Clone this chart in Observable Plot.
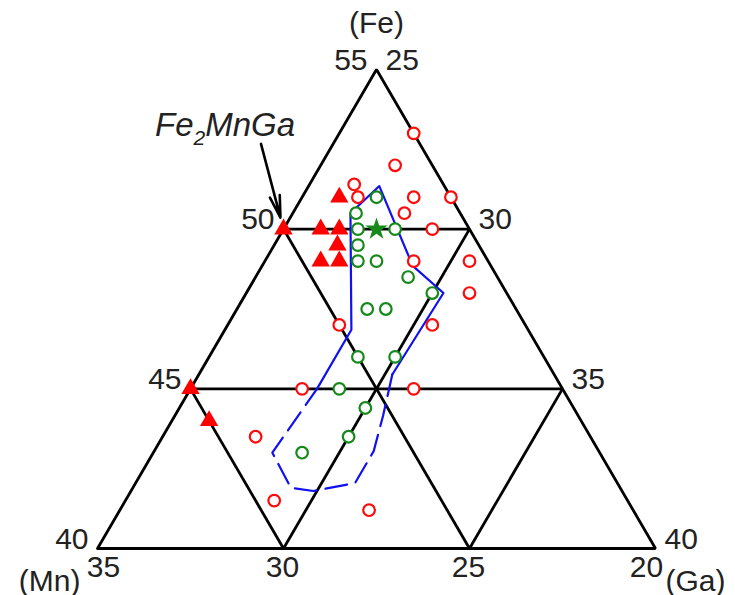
<!DOCTYPE html>
<html><head><meta charset="utf-8">
<script src="https://cdn.jsdelivr.net/npm/d3@7"></script>
<script src="https://cdn.jsdelivr.net/npm/@observablehq/plot@0.6"></script>
<style>body{margin:0;background:#fff;} #chart{width:735px;height:595px;}</style>
</head><body><div id="chart"></div>
<script>
// Ternary sub-triangle (at.%): Fe 40–55, Mn 20–35, Ga 25–40. Each point is [Fe, Mn, Ga].
const feTicks = [40, 45, 50, 55];
const mnTicks = [35, 30, 25, 20];
const gaTicks = [25, 30, 35, 40];

const redCircles = [
  [53, 20, 27], [52, 21, 27], [51.4, 22.4, 26.2], [51, 22.5, 26.5], [51, 21, 28],
  [51, 20, 29], [50.5, 21.5, 28], [50, 21, 29], [49, 22, 29], [49, 20.5, 30.5],
  [48, 21, 31], [47, 22.5, 30.5], [47, 25, 28], [45, 27, 28], [45, 24, 31],
  [43.5, 29, 27.5], [41.5, 29.5, 29], [41.2, 27.1, 31.7]
];
const greenCircles = [
  [51, 22, 27], [50.5, 22.8, 26.7], [50, 23, 27], [50, 22, 28], [49.5, 23.25, 27.25],
  [49, 23.5, 27.5], [49, 23, 28], [48.5, 22.4, 29.1], [48, 22, 30], [47.5, 24, 28.5],
  [47.5, 23.5, 29], [46, 25, 29], [46, 24, 30], [45, 26, 29], [44.4, 25.6, 30],
  [43.5, 26.5, 30], [43, 28, 29]
];
const redTriangles = [
  [50, 25, 25], [50, 24, 26], [50, 23.5, 26.5], [51, 23, 26], [49.5, 23.8, 26.7],
  [49, 24.5, 26.5], [49, 24, 27], [45, 30, 25], [44, 30, 26]
];
const greenStar = [[50, 22.5, 27.5]];
const blueSolid = [
  [45.0, 26.6, 28.4], [46.85, 24.75, 28.4], [50.5, 22.95, 26.55], [51.35, 21.75, 26.9],
  [48.85, 22.1, 29.05], [48.0, 21.7, 30.3], [45.45, 24.35, 30.2]
];
const blueDashed = [
  [45.45, 24.35, 30.2], [44.15, 25.25, 30.6], [43.05, 26.05, 30.9], [42.05, 27.05, 30.9],
  [41.8, 28.3, 29.9], [41.9, 28.85, 29.25], [43.0, 28.8, 28.2], [45.0, 26.6, 28.4]
];
const compoundLabel = "Fe2MnGa";
const compound = [50, 25, 25];
const compoundLabelAnchor = [52.67, 24.27, 23.06];

// ternary -> cartesian (unit triangle): x from Ga & Fe, y from Fe
const px = ([fe, mn, ga]) => (ga - 25) / 15 + (fe - 40) / 30;
const py = ([fe, mn, ga]) => (fe - 40) / 15;

const outline = [[40, 35, 25], [40, 20, 40], [55, 20, 25], [40, 35, 25]];
const inner = a => a.slice(1, -1);
const grid = [
  ...inner(feTicks).map(f => [[f, 75 - f, 25], [f, 20, 80 - f]]),
  ...inner(gaTicks).map(g => [[40, 60 - g, g], [80 - g, 20, g]]),
  ...inner(mnTicks).map(m => [[40, m, 60 - m], [75 - m, m, 25]])
];
const feAt = f => [f, 75 - f, 25];   // left edge
const gaAt = g => [80 - g, 20, g];   // right edge
const mnAt = m => [40, m, 60 - m];   // bottom edge

const font = "Liberation Sans, Arial, Helvetica, sans-serif";
const txt = "#222";
const FS = 30;
const LW = 2.8;

const chart = Plot.plot({
  width: 735, height: 595, margin: 0,
  x: {domain: [0, 1], range: [97, 655], axis: null},
  y: {domain: [0, 1], range: [548, 69], axis: null},
  style: {fontFamily: font, background: "white"},
  marks: [
    Plot.link(grid, {x1: d => px(d[0]), y1: d => py(d[0]), x2: d => px(d[1]), y2: d => py(d[1]), stroke: "black", strokeWidth: LW}),
    Plot.line(outline, {x: px, y: py, stroke: "black", strokeWidth: LW, strokeLinejoin: "miter"}),
    Plot.line(blueSolid, {x: px, y: py, stroke: "#1010f0", strokeWidth: 2.2}),
    Plot.line(blueDashed, {x: px, y: py, stroke: "#1010f0", strokeWidth: 2.2, strokeDasharray: "22,9"}),
    Plot.dot(redCircles, {x: px, y: py, r: 5.8, stroke: "#ff0a0a", strokeWidth: 2.2, fill: "white"}),
    Plot.dot(greenCircles, {x: px, y: py, r: 5.8, stroke: "#15891a", strokeWidth: 2.2, fill: "white"}),
    Plot.dot(redTriangles, {x: px, y: py, r: 6.8, symbol: "triangle", fill: "#ff0000", stroke: "none"}),
    Plot.dot(greenStar, {x: px, y: py, r: 7, symbol: "star", fill: "#15891a", stroke: "none"}),
    Plot.arrow([{from: compoundLabelAnchor, to: compound}], {
      x1: d => px(d.from), y1: d => py(d.from), x2: d => px(d.to), y2: d => py(d.to),
      stroke: "black", strokeWidth: 2.6, headLength: 13, headAngle: 26, insetEnd: 12
    }),
    Plot.text([compoundLabelAnchor], {x: px, y: py, text: () => compoundLabel, textAnchor: "start", lineAnchor: "bottom",
      dx: -106, dy: -8, fontSize: 33, fontStyle: "italic", fill: txt}),
    // Fe ticks (left edge)
    Plot.text(feTicks, {x: f => px(feAt(f)), y: f => py(feAt(f)), text: d => String(d), textAnchor: "end", lineAnchor: "bottom", dx: -9, dy: 0, fontSize: FS, fill: txt}),
    // Ga ticks (right edge)
    Plot.text(gaTicks, {x: g => px(gaAt(g)), y: g => py(gaAt(g)), text: d => String(d), textAnchor: "start", lineAnchor: "bottom", dx: 9, dy: 0, fontSize: FS, fill: txt}),
    // Mn ticks (bottom edge)
    Plot.text(inner(mnTicks), {x: m => px(mnAt(m)), y: m => py(mnAt(m)), text: d => String(d), textAnchor: "middle", lineAnchor: "top", dx: -1, dy: 7, fontSize: FS, fill: txt}),
    Plot.text([mnTicks[0]], {x: m => px(mnAt(m)), y: m => py(mnAt(m)), text: d => String(d), textAnchor: "middle", lineAnchor: "top", dx: 6, dy: 7, fontSize: FS, fill: txt}),
    Plot.text([mnTicks[mnTicks.length - 1]], {x: m => px(mnAt(m)), y: m => py(mnAt(m)), text: d => String(d), textAnchor: "middle", lineAnchor: "top", dx: -9, dy: 7, fontSize: FS, fill: txt}),
    // axis names
    Plot.text([[55, 20, 25]], {x: px, y: py, text: () => "(Fe)", textAnchor: "middle", lineAnchor: "bottom", dy: -37, fontSize: FS, fill: txt}),
    Plot.text([[40, 35, 25]], {x: px, y: py, text: () => "(Mn)", textAnchor: "end", lineAnchor: "bottom", dx: -17, dy: 42, fontSize: FS, fill: txt}),
    Plot.text([[40, 20, 40]], {x: px, y: py, text: () => "(Ga)", textAnchor: "start", lineAnchor: "bottom", dx: 10, dy: 42, fontSize: FS, fill: txt})
  ]
});
document.getElementById("chart").appendChild(chart);

// subscript "2" in Fe2MnGa
d3.select(chart).selectAll("text").filter(function() { return this.textContent === compoundLabel; })
  .each(function() {
    const t = d3.select(this);
    t.text(null);
    t.append("tspan").text("Fe");
    t.append("tspan").attr("dy", 9).attr("font-size", 21).text("2");
    t.append("tspan").attr("dy", -9).text("MnGa");
  });
</script>
</body></html>
